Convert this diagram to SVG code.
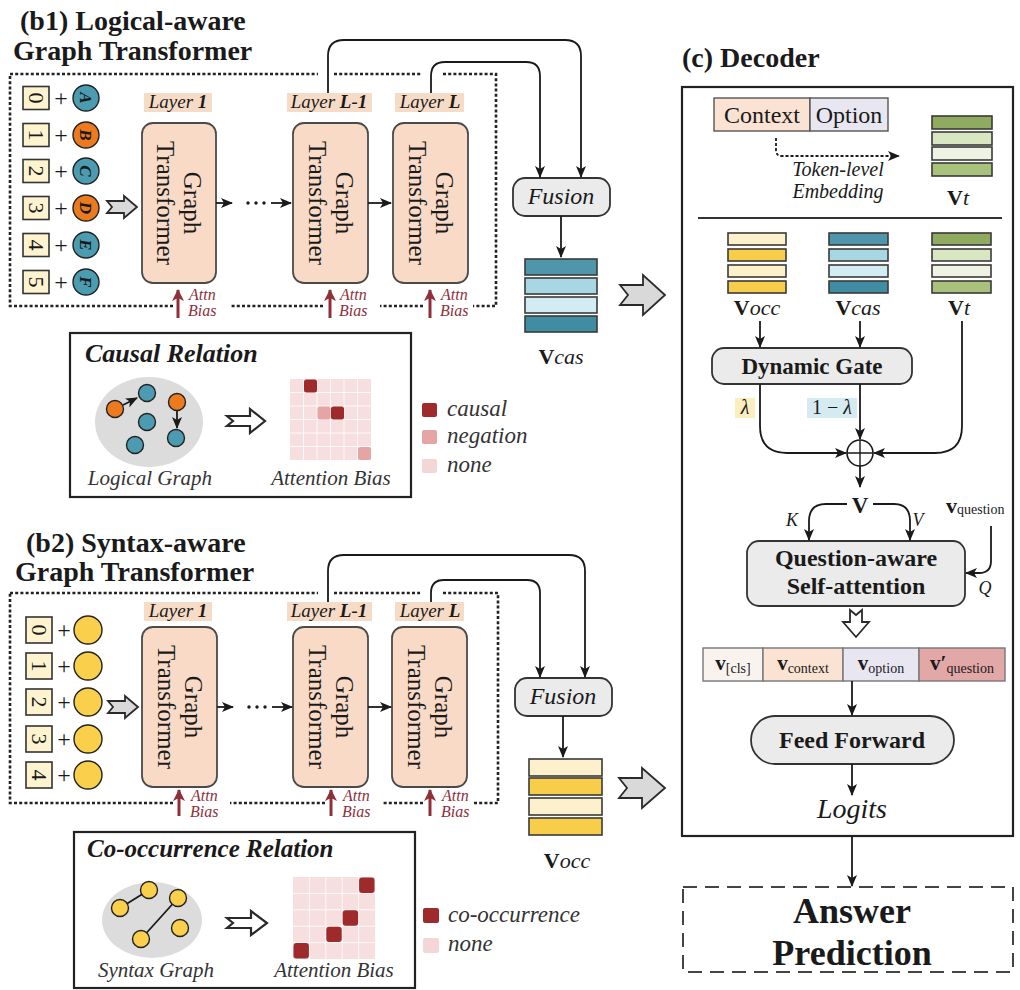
<svg xmlns="http://www.w3.org/2000/svg" width="1020" height="990" viewBox="0 0 1020 990">
<defs>
<style>
text{fill:#1a1a1a}
.title{font-size:28px;font-weight:bold}
.gt{fill:#f8dac6;stroke:#4a4a4a;stroke-width:1.8}
.gtt{font-size:25px;text-anchor:middle}
.lbl{fill:#f6dcc6}
.lay{font-size:19px;font-style:italic;text-anchor:middle}
.idx{fill:#fdf3cf;stroke:#333;stroke-width:1.6}
.dig{font-size:22px;text-anchor:middle}
.plus{font-size:24px;text-anchor:middle}
.nT{fill:#4b9bb1;stroke:#222;stroke-width:1.4}
.nO{fill:#ec7a1e;stroke:#222;stroke-width:1.4}
.nY{fill:#f9cf4c;stroke:#222;stroke-width:1.4}
.let{font-size:17px;font-style:italic;font-weight:bold;text-anchor:middle}
.frame{fill:none;stroke:#222;stroke-width:2.6;stroke-dasharray:3 2.2}
.ln{fill:none;stroke:#1a1a1a;stroke-width:1.8}
.attn{fill:none;stroke:#8e2f3a;stroke-width:3}
.attnT{font-size:16px;font-style:italic;fill:#8e2f3a}
.box{fill:#ebebeb;stroke:#333;stroke-width:1.8}
.bar{stroke:#3a3a3a;stroke-width:1.6}
.blk{fill:#d9d9d9;stroke:#2a2a2a;stroke-width:1.8}
.hol{fill:#fff;stroke:#2a2a2a;stroke-width:1.8}
.rel{fill:#fff;stroke:#2a2a2a;stroke-width:2.2}
.ell{fill:#dcdcdc}
.cap{font-size:21px;font-style:italic;text-anchor:middle;fill:#333}
.leg{font-size:23px;font-style:italic;fill:#333}
.bg{fill:#f7dfdf}
.gl{stroke:#fff;stroke-width:1;stroke-opacity:0.8}
.dk{fill:#9e2a2b}
.ng{fill:#e5a5a5}
.nn{fill:#f3d6d6}
.bold{font-weight:bold}
.it{font-style:italic}
</style>
<marker id="ah" viewBox="0 0 12 10" refX="11" refY="5" markerWidth="12" markerHeight="10" markerUnits="userSpaceOnUse" orient="auto"><path d="M0,0 L12,5 L0,10 L3,5 Z" fill="#1a1a1a"/></marker>
<marker id="ahr" viewBox="0 0 12 12" refX="11" refY="6" markerWidth="12" markerHeight="12" markerUnits="userSpaceOnUse" orient="auto"><path d="M0,0 L12,6 L0,12 L3,6 Z" fill="#8e2f3a"/></marker>
</defs>
<rect width="1020" height="990" fill="#fff"/>

<!-- ===== (b1) Logical-aware Graph Transformer ===== -->
<g id="b1-title">
<text font-family="Liberation Serif" class="title" x="20" y="30">(b1) Logical-aware</text>
<text font-family="Liberation Serif" class="title" x="13" y="60">Graph Transformer</text>
</g>
<path class="frame" d="M10,74 H318 M334,74 H421 M443,74 H496 V306 H473 M423,306 H380 M323,306 H230 M173,306 H10 V74"/>

<g id="b1-inputs">
<rect class="idx" x="23" y="86.5" width="26" height="23"/>
<text font-family="Liberation Serif" class="dig" transform="translate(36,98) rotate(90)" y="7.5">0</text>
<text font-family="Liberation Serif" class="plus" x="61" y="106">+</text>
<circle class="nT" cx="86" cy="98" r="13"/>
<text font-family="Liberation Serif" class="let" transform="translate(86,98) rotate(90)" y="6">A</text>

<rect class="idx" x="23" y="123.5" width="26" height="23"/>
<text font-family="Liberation Serif" class="dig" transform="translate(36,135) rotate(90)" y="7.5">1</text>
<text font-family="Liberation Serif" class="plus" x="61" y="143">+</text>
<circle class="nO" cx="86" cy="135" r="13"/>
<text font-family="Liberation Serif" class="let" transform="translate(86,135) rotate(90)" y="6">B</text>

<rect class="idx" x="23" y="159.5" width="26" height="23"/>
<text font-family="Liberation Serif" class="dig" transform="translate(36,171) rotate(90)" y="7.5">2</text>
<text font-family="Liberation Serif" class="plus" x="61" y="179">+</text>
<circle class="nT" cx="86" cy="171" r="13"/>
<text font-family="Liberation Serif" class="let" transform="translate(86,171) rotate(90)" y="6">C</text>

<rect class="idx" x="23" y="196.5" width="26" height="23"/>
<text font-family="Liberation Serif" class="dig" transform="translate(36,208) rotate(90)" y="7.5">3</text>
<text font-family="Liberation Serif" class="plus" x="61" y="216">+</text>
<circle class="nO" cx="86" cy="208" r="13"/>
<text font-family="Liberation Serif" class="let" transform="translate(86,208) rotate(90)" y="6">D</text>

<rect class="idx" x="23" y="233.5" width="26" height="23"/>
<text font-family="Liberation Serif" class="dig" transform="translate(36,245) rotate(90)" y="7.5">4</text>
<text font-family="Liberation Serif" class="plus" x="61" y="253">+</text>
<circle class="nT" cx="86" cy="245" r="13"/>
<text font-family="Liberation Serif" class="let" transform="translate(86,245) rotate(90)" y="6">E</text>

<rect class="idx" x="23" y="270.5" width="26" height="23"/>
<text font-family="Liberation Serif" class="dig" transform="translate(36,282) rotate(90)" y="7.5">5</text>
<text font-family="Liberation Serif" class="plus" x="61" y="290">+</text>
<circle class="nT" cx="86" cy="282" r="13"/>
<text font-family="Liberation Serif" class="let" transform="translate(86,282) rotate(90)" y="6">F</text>
</g>
<path class="blk" d="M107,201 H124 V196 L137,207 L124,218 V213 H107 L112,207 Z"/>

<g id="b1-layer1">
<rect class="lbl" x="144" y="93" width="68" height="19"/>
<text font-family="Liberation Serif" class="lay" x="178" y="108">Layer <tspan class="bold">1</tspan></text>
<rect class="gt" x="142" y="123" width="74" height="160" rx="11"/>
<text font-family="Liberation Serif" class="gtt" transform="translate(179,203) rotate(90)"><tspan x="0" y="-5">Graph</tspan><tspan x="0" y="22">Transformer</tspan></text>
</g>
<g id="b1-layerL-1">
<rect class="lbl" x="287" y="93" width="85" height="19"/>
<text font-family="Liberation Serif" class="lay" x="329" y="108">Layer <tspan class="bold">L-1</tspan></text>
<rect class="gt" x="293" y="123" width="75" height="160" rx="11"/>
<text font-family="Liberation Serif" class="gtt" transform="translate(330.5,203) rotate(90)"><tspan x="0" y="-5">Graph</tspan><tspan x="0" y="22">Transformer</tspan></text>
</g>
<g id="b1-layerL">
<rect class="lbl" x="395" y="93" width="69" height="19"/>
<text font-family="Liberation Serif" class="lay" x="430" y="108">Layer <tspan class="bold">L</tspan></text>
<rect class="gt" x="393" y="123" width="75" height="160" rx="11"/>
<text font-family="Liberation Serif" class="gtt" transform="translate(430.5,203) rotate(90)"><tspan x="0" y="-5">Graph</tspan><tspan x="0" y="22">Transformer</tspan></text>
</g>
<g id="b1-attn">
<path class="attn" d="M178,318 V290" marker-end="url(#ahr)"/>
<path class="attn" d="M330,318 V290" marker-end="url(#ahr)"/>
<path class="attn" d="M430,318 V290" marker-end="url(#ahr)"/>
<text font-family="Liberation Serif" class="attnT" x="189" y="300">Attn</text><text font-family="Liberation Serif" class="attnT" x="188" y="316">Bias</text>
<text font-family="Liberation Serif" class="attnT" x="340" y="300">Attn</text><text font-family="Liberation Serif" class="attnT" x="339" y="316">Bias</text>
<text font-family="Liberation Serif" class="attnT" x="441" y="300">Attn</text><text font-family="Liberation Serif" class="attnT" x="440" y="316">Bias</text>
</g>
<g id="b1-fusion">
<rect class="box" x="513" y="178" width="97" height="38" rx="12"/>
<text font-family="Liberation Serif" x="561" y="204" font-size="24" font-style="italic" text-anchor="middle" fill="#333">Fusion</text>
</g>
<g id="b1-vcas">
<rect class="bar" x="525" y="259" width="72" height="16" fill="#4f96ab"/>
<rect class="bar" x="525" y="278" width="72" height="16" fill="#a9d6e3"/>
<rect class="bar" x="525" y="297" width="72" height="16" fill="#d3ebf2"/>
<rect class="bar" x="525" y="316" width="72" height="16" fill="#3f8ca3"/>
<text font-family="Liberation Serif" x="561" y="364" font-size="22" text-anchor="middle"><tspan class="bold">V</tspan><tspan class="it">cas</tspan></text>
</g>
<path class="blk" d="M620,285 H643 V275 L665,295 L643,315 V305 H620 L628,295 Z"/>

<!-- causal relation panel -->
<g id="causal-relation">
<rect x="70" y="333" width="341" height="164" fill="#fff" stroke="#222" stroke-width="2.2"/>
<text font-family="Liberation Serif" x="85" y="362" font-size="26" font-weight="bold" font-style="italic">Causal Relation</text>
<ellipse class="ell" cx="149" cy="422" rx="54" ry="45"/>
<path class="ln" d="M123,405 L137,398" stroke-width="1.4" marker-end="url(#ah)"/>
<path class="ln" d="M177,410 V428" stroke-width="1.4" marker-end="url(#ah)"/>
<circle class="nO" cx="115" cy="409" r="8.5"/>
<circle class="nT" cx="147" cy="393" r="8.5"/>
<circle class="nT" cx="147" cy="422" r="8.5"/>
<circle class="nO" cx="177" cy="402" r="8.5"/>
<circle class="nT" cx="176" cy="438" r="8.5"/>
<circle class="nT" cx="135" cy="445" r="8.5"/>
<text font-family="Liberation Serif" class="cap" x="150" y="485">Logical Graph</text>
<path class="rel" d="M227,416 H250 V409 L265,421 L250,433 V426 H227 L233,421 Z"/>
<rect class="bg" x="290" y="379" width="81" height="81"/>
<path class="gl" d="M303.5,379 V460 M317,379 V460 M330.5,379 V460 M344,379 V460 M357.5,379 V460 M290,392.5 H371 M290,406 H371 M290,419.5 H371 M290,433 H371 M290,446.5 H371"/>
<rect class="dk" x="304" y="379.5" width="13" height="13" rx="2.5"/>
<rect class="ng" x="317.5" y="406.5" width="13" height="13" rx="2.5"/>
<rect class="dk" x="331" y="406.5" width="13" height="13" rx="2.5"/>
<rect class="ng" x="358" y="447" width="13" height="13" rx="2.5"/>
<text font-family="Liberation Serif" class="cap" x="331" y="485">Attention Bias</text>
</g>
<g id="causal-legend">
<rect class="dk" x="422" y="403" width="15" height="14" rx="2"/>
<rect class="ng" x="422" y="430" width="15" height="14" rx="2"/>
<rect class="nn" x="422" y="459" width="15" height="14" rx="2"/>
<text font-family="Liberation Serif" class="leg" x="447" y="416">causal</text>
<text font-family="Liberation Serif" class="leg" x="447" y="443">negation</text>
<text font-family="Liberation Serif" class="leg" x="447" y="472">none</text>
</g>

<!-- ===== (b2) Syntax-aware Graph Transformer ===== -->
<g id="b2-title">
<text font-family="Liberation Serif" class="title" x="26" y="552">(b2) Syntax-aware</text>
<text font-family="Liberation Serif" class="title" x="15" y="581">Graph Transformer</text>
</g>
<path class="frame" d="M10,593 H318 M334,593 H420 M443,593 H498 V803 H473 M423,803 H383 M325,803 H230 M173,803 H10 V593"/>

<g id="b2-inputs">
<rect class="idx" x="26" y="617" width="26" height="26"/>
<text font-family="Liberation Serif" class="dig" transform="translate(39,630) rotate(90)" y="7.5">0</text>
<text font-family="Liberation Serif" class="plus" x="64" y="638">+</text>
<circle class="nY" cx="88" cy="630" r="14"/>
<rect class="idx" x="26" y="653" width="26" height="26"/>
<text font-family="Liberation Serif" class="dig" transform="translate(39,666) rotate(90)" y="7.5">1</text>
<text font-family="Liberation Serif" class="plus" x="64" y="674">+</text>
<circle class="nY" cx="88" cy="666" r="14"/>
<rect class="idx" x="26" y="689" width="26" height="26"/>
<text font-family="Liberation Serif" class="dig" transform="translate(39,702) rotate(90)" y="7.5">2</text>
<text font-family="Liberation Serif" class="plus" x="64" y="710">+</text>
<circle class="nY" cx="88" cy="702" r="14"/>
<rect class="idx" x="26" y="726" width="26" height="26"/>
<text font-family="Liberation Serif" class="dig" transform="translate(39,739) rotate(90)" y="7.5">3</text>
<text font-family="Liberation Serif" class="plus" x="64" y="747">+</text>
<circle class="nY" cx="88" cy="739" r="14"/>
<rect class="idx" x="26" y="762" width="26" height="26"/>
<text font-family="Liberation Serif" class="dig" transform="translate(39,775) rotate(90)" y="7.5">4</text>
<text font-family="Liberation Serif" class="plus" x="64" y="783">+</text>
<circle class="nY" cx="88" cy="775" r="14"/>
</g>
<path class="blk" d="M108,701 H125 V696 L138,707 L125,718 V713 H108 L113,707 Z"/>

<g id="b2-layer1">
<rect class="lbl" x="144" y="602" width="68" height="19"/>
<text font-family="Liberation Serif" class="lay" x="178" y="617">Layer <tspan class="bold">1</tspan></text>
<rect class="gt" x="142" y="627" width="75" height="160" rx="11"/>
<text font-family="Liberation Serif" class="gtt" transform="translate(179.5,707) rotate(90)"><tspan x="0" y="-5">Graph</tspan><tspan x="0" y="22">Transformer</tspan></text>
</g>
<g id="b2-layerL-1">
<rect class="lbl" x="287" y="602" width="85" height="19"/>
<text font-family="Liberation Serif" class="lay" x="329" y="617">Layer <tspan class="bold">L-1</tspan></text>
<rect class="gt" x="293" y="627" width="75" height="160" rx="11"/>
<text font-family="Liberation Serif" class="gtt" transform="translate(330.5,707) rotate(90)"><tspan x="0" y="-5">Graph</tspan><tspan x="0" y="22">Transformer</tspan></text>
</g>
<g id="b2-layerL">
<rect class="lbl" x="395" y="602" width="69" height="19"/>
<text font-family="Liberation Serif" class="lay" x="430" y="617">Layer <tspan class="bold">L</tspan></text>
<rect class="gt" x="392" y="627" width="75" height="160" rx="11"/>
<text font-family="Liberation Serif" class="gtt" transform="translate(429.5,707) rotate(90)"><tspan x="0" y="-5">Graph</tspan><tspan x="0" y="22">Transformer</tspan></text>
</g>
<g id="b2-attn">
<path class="attn" d="M179,816 V790" marker-end="url(#ahr)"/>
<path class="attn" d="M331,816 V790" marker-end="url(#ahr)"/>
<path class="attn" d="M430,816 V790" marker-end="url(#ahr)"/>
<text font-family="Liberation Serif" class="attnT" x="191" y="801">Attn</text><text font-family="Liberation Serif" class="attnT" x="190" y="817">Bias</text>
<text font-family="Liberation Serif" class="attnT" x="343" y="801">Attn</text><text font-family="Liberation Serif" class="attnT" x="342" y="817">Bias</text>
<text font-family="Liberation Serif" class="attnT" x="442" y="801">Attn</text><text font-family="Liberation Serif" class="attnT" x="441" y="817">Bias</text>
</g>
<g id="b2-fusion">
<rect class="box" x="515" y="678" width="97" height="38" rx="12"/>
<text font-family="Liberation Serif" x="563" y="704" font-size="24" font-style="italic" text-anchor="middle" fill="#333">Fusion</text>
</g>
<g id="b2-vocc">
<rect class="bar" x="529" y="759" width="73" height="17" fill="#fdf1cc"/>
<rect class="bar" x="529" y="778" width="73" height="17" fill="#f8cd4a"/>
<rect class="bar" x="529" y="798" width="73" height="17" fill="#fdf1cc"/>
<rect class="bar" x="529" y="818" width="73" height="17" fill="#f8cd4a"/>
<text font-family="Liberation Serif" x="567" y="868" font-size="22" text-anchor="middle"><tspan class="bold">V</tspan><tspan class="it">occ</tspan></text>
</g>
<path class="blk" d="M619,778 H642 V768 L665,788 L642,808 V798 H619 L627,788 Z"/>

<!-- co-occurrence relation panel -->
<g id="cooccurrence-relation">
<rect x="74" y="832" width="341" height="156" fill="#fff" stroke="#222" stroke-width="2.2"/>
<text font-family="Liberation Serif" x="87" y="857" font-size="25" font-weight="bold" font-style="italic">Co-occurrence Relation</text>
<ellipse class="ell" cx="152" cy="920" rx="50" ry="38"/>
<path class="ln" d="M120,908 L149,890 M178,898 L141,939" stroke-width="1.5"/>
<circle class="nY" cx="149" cy="890" r="8.5"/>
<circle class="nY" cx="120" cy="908" r="8.5"/>
<circle class="nY" cx="178" cy="898" r="8.5"/>
<circle class="nY" cx="180" cy="928" r="8.5"/>
<circle class="nY" cx="141" cy="939" r="8.5"/>
<text font-family="Liberation Serif" class="cap" x="156" y="977">Syntax Graph</text>
<path class="rel" d="M227,918 H251 V911 L267,923 L251,935 V928 H227 L233,923 Z"/>
<rect class="bg" x="293" y="877" width="82" height="82"/>
<path class="gl" d="M309.4,877 V959 M325.8,877 V959 M342.2,877 V959 M358.6,877 V959 M293,893.4 H375 M293,909.8 H375 M293,926.2 H375 M293,942.6 H375"/>
<rect class="dk" x="359.1" y="877.5" width="15.4" height="15.4" rx="3"/>
<rect class="dk" x="342.7" y="910.3" width="15.4" height="15.4" rx="3"/>
<rect class="dk" x="326.3" y="926.7" width="15.4" height="15.4" rx="3"/>
<rect class="dk" x="293.5" y="943.1" width="15.4" height="15.4" rx="3"/>
<text font-family="Liberation Serif" class="cap" x="334" y="977">Attention Bias</text>
</g>
<g id="cooccurrence-legend">
<rect class="dk" x="423" y="908" width="16" height="15" rx="2"/>
<rect class="nn" x="423" y="938" width="16" height="15" rx="2"/>
<text font-family="Liberation Serif" class="leg" x="448" y="922">co-occurrence</text>
<text font-family="Liberation Serif" class="leg" x="448" y="951">none</text>
</g>

<!-- ===== (c) Decoder ===== -->
<text font-family="Liberation Serif" class="title" x="682" y="67">(c) Decoder</text>
<rect id="decoder-frame" x="682" y="87" width="331" height="749" fill="none" stroke="#222" stroke-width="2.2"/>

<g id="context-option">
<rect x="714" y="98" width="96" height="33" fill="#fbe3d4" stroke="#555" stroke-width="1.4"/>
<rect x="810" y="98" width="78" height="33" fill="#e8e7f1" stroke="#555" stroke-width="1.4"/>
<text font-family="Liberation Serif" x="762" y="123" font-size="24" text-anchor="middle" fill="#333">Context</text>
<text font-family="Liberation Serif" x="849" y="123" font-size="24" text-anchor="middle" fill="#333">Option</text>
</g>
<g id="token-embedding">
<text font-family="Liberation Serif" x="838" y="176" font-size="20" font-style="italic" text-anchor="middle" fill="#333">Token-level</text>
<text font-family="Liberation Serif" x="838" y="198" font-size="20" font-style="italic" text-anchor="middle" fill="#333">Embedding</text>
</g>
<g id="vt-top">
<rect class="bar" x="932" y="116" width="60" height="13" fill="#8fab5f"/>
<rect class="bar" x="932" y="132" width="60" height="13" fill="#d9e6c2"/>
<rect class="bar" x="932" y="147" width="60" height="13" fill="#eef3e3"/>
<rect class="bar" x="932" y="163" width="60" height="13" fill="#a8c27b"/>
<text font-family="Liberation Serif" x="958" y="205" font-size="22" text-anchor="middle"><tspan class="bold">V</tspan><tspan class="it">t</tspan></text>
</g>
<path d="M698,218 H1002" stroke="#333" stroke-width="1.8"/>

<g id="vocc-dec">
<rect class="bar" x="728" y="233" width="58" height="12" fill="#fdf1cc"/>
<rect class="bar" x="728" y="249" width="58" height="12" fill="#f8cd4a"/>
<rect class="bar" x="728" y="265" width="58" height="12" fill="#fdf1cc"/>
<rect class="bar" x="728" y="281" width="58" height="12" fill="#f8cd4a"/>
<text font-family="Liberation Serif" x="757" y="315" font-size="22" text-anchor="middle"><tspan class="bold">V</tspan><tspan class="it">occ</tspan></text>
</g>
<g id="vcas-dec">
<rect class="bar" x="829" y="233" width="59" height="12" fill="#4f96ab"/>
<rect class="bar" x="829" y="249" width="59" height="12" fill="#a9d6e3"/>
<rect class="bar" x="829" y="265" width="59" height="12" fill="#d3ebf2"/>
<rect class="bar" x="829" y="281" width="59" height="12" fill="#3f8ca3"/>
<text font-family="Liberation Serif" x="858" y="315" font-size="22" text-anchor="middle"><tspan class="bold">V</tspan><tspan class="it">cas</tspan></text>
</g>
<g id="vt-dec">
<rect class="bar" x="932" y="233" width="59" height="12" fill="#8fab5f"/>
<rect class="bar" x="932" y="249" width="59" height="12" fill="#d9e6c2"/>
<rect class="bar" x="932" y="265" width="59" height="12" fill="#eef3e3"/>
<rect class="bar" x="932" y="281" width="59" height="12" fill="#a8c27b"/>
<text font-family="Liberation Serif" x="959" y="315" font-size="22" text-anchor="middle"><tspan class="bold">V</tspan><tspan class="it">t</tspan></text>
</g>

<g id="dynamic-gate">
<rect class="box" x="712" y="348" width="200" height="36" rx="12"/>
<text font-family="Liberation Serif" x="812" y="374" font-size="23" font-weight="bold" text-anchor="middle">Dynamic Gate</text>
</g>
<g id="gate-weights">
<rect x="735" y="398" width="20" height="20" fill="#fdeec0"/>
<text font-family="Liberation Serif" x="745" y="414" font-size="20" font-style="italic" text-anchor="middle" fill="#333">λ</text>
<rect x="807" y="398" width="50" height="20" fill="#d6eaf2"/>
<text font-family="Liberation Serif" x="832" y="414" font-size="20" text-anchor="middle" fill="#333">1 − <tspan class="it">λ</tspan></text>
</g>
<g id="sum">
<circle cx="860" cy="453" r="13" fill="#fff" stroke="#1a1a1a" stroke-width="1.6"/>
<path d="M847,453 H873 M860,440 V466" stroke="#1a1a1a" stroke-width="1.4"/>
</g>
<text font-family="Liberation Serif" x="860" y="513" font-size="23" font-weight="bold" text-anchor="middle">V</text>
<text font-family="Liberation Serif" x="792" y="526" font-size="18" font-style="italic" text-anchor="middle" fill="#333">K</text>
<text font-family="Liberation Serif" x="918" y="526" font-size="18" font-style="italic" text-anchor="middle" fill="#333">V</text>
<text font-family="Liberation Serif" x="946" y="513" font-size="22" font-weight="bold">v<tspan font-size="14" font-weight="normal" dy="1">question</tspan></text>
<text font-family="Liberation Serif" x="985" y="594" font-size="18" font-style="italic" text-anchor="middle" fill="#333">Q</text>

<g id="self-attention">
<rect class="box" x="747" y="541" width="218" height="65" rx="12"/>
<text font-family="Liberation Serif" x="856" y="566" font-size="24" font-weight="bold" text-anchor="middle">Question-aware</text>
<text font-family="Liberation Serif" x="856" y="594" font-size="24" font-weight="bold" text-anchor="middle">Self-attention</text>
</g>
<path class="hol" d="M850,610 V622 H843 L856,637 L869,622 H862 V610 L856,615 Z"/>

<g id="sequence">
<rect x="703" y="648" width="60" height="33" fill="#f8f3ef" stroke="#777" stroke-width="1.4"/>
<rect x="763" y="648" width="80" height="33" fill="#fbe3d4" stroke="#777" stroke-width="1.4"/>
<rect x="843" y="648" width="76" height="33" fill="#e8e7f1" stroke="#777" stroke-width="1.4"/>
<rect x="919" y="648" width="86" height="33" fill="#e2a7a7" stroke="#777" stroke-width="1.4"/>
<text font-family="Liberation Serif" x="733" y="670" font-size="21" text-anchor="middle"><tspan class="bold">v</tspan><tspan font-size="14" dy="3">[cls]</tspan></text>
<text font-family="Liberation Serif" x="803" y="670" font-size="21" text-anchor="middle"><tspan class="bold">v</tspan><tspan font-size="14" dy="3">context</tspan></text>
<text font-family="Liberation Serif" x="881" y="670" font-size="21" text-anchor="middle"><tspan class="bold">v</tspan><tspan font-size="14" dy="3">option</tspan></text>
<text font-family="Liberation Serif" x="962" y="670" font-size="21" text-anchor="middle"><tspan class="bold">v′</tspan><tspan font-size="14" dy="3">question</tspan></text>
</g>
<g id="feed-forward">
<rect class="box" x="751" y="716" width="203" height="48" rx="24"/>
<text font-family="Liberation Serif" x="852" y="748" font-size="24" font-weight="bold" text-anchor="middle">Feed Forward</text>
</g>
<text font-family="Liberation Serif" x="852" y="818" font-size="28" font-style="italic" text-anchor="middle" fill="#333">Logits</text>

<g id="answer-prediction">
<rect x="683" y="887" width="330" height="85" fill="none" stroke="#444" stroke-width="2" stroke-dasharray="14 8"/>
<text font-family="Liberation Serif" x="852" y="923" font-size="36" font-weight="bold" text-anchor="middle">Answer</text>
<text font-family="Liberation Serif" x="852" y="965" font-size="36" font-weight="bold" text-anchor="middle">Prediction</text>
</g>

<!-- ===== connectors ===== -->
<g id="connectors" class="ln">
<path d="M216,203 H232" marker-end="url(#ah)"/>
<path d="M271,203 H291" marker-end="url(#ah)"/>
<path d="M368,203 H391" marker-end="url(#ah)"/>
<path d="M217,707 H233" marker-end="url(#ah)"/>
<path d="M272,707 H292" marker-end="url(#ah)"/>
<path d="M368,707 H391" marker-end="url(#ah)"/>
<path d="M328,93 V56 Q328,40 344,40 H565 Q581,40 581,56 V177" marker-end="url(#ah)"/>
<path d="M431,93 V76 Q431,62 445,62 H526 Q540,62 540,76 V177" marker-end="url(#ah)"/>
<path d="M561,216 V257" marker-end="url(#ah)"/>
<path d="M328,602 V571 Q328,555 344,555 H569 Q585,555 585,571 V677" marker-end="url(#ah)"/>
<path d="M431,602 V593 Q431,580 444,580 H527 Q540,580 540,593 V677" marker-end="url(#ah)"/>
<path d="M563,716 V757" marker-end="url(#ah)"/>
<path d="M776,138 V150 Q776,156 782,156 H899" stroke-dasharray="3 2" marker-end="url(#ah)"/>
<path d="M760,321 V347" marker-end="url(#ah)"/>
<path d="M860,321 V347" marker-end="url(#ah)"/>
<path d="M962,321 V426 Q962,453 935,453 H874" marker-end="url(#ah)"/>
<path d="M760,384 V426 Q760,453 787,453 H846" marker-end="url(#ah)"/>
<path d="M860,384 V439" marker-end="url(#ah)"/>
<path d="M860,466 V487" marker-end="url(#ah)"/>
<path d="M847,504 H826 Q809,504 809,521 V540" marker-end="url(#ah)"/>
<path d="M873,504 H894 Q910,504 910,521 V540" marker-end="url(#ah)"/>
<path d="M991,526 V561 Q991,573 979,573 H966" marker-end="url(#ah)"/>
<path d="M852,681 V715" marker-end="url(#ah)"/>
<path d="M852,764 V795" marker-end="url(#ah)"/>
<path d="M852,836 V886" marker-end="url(#ah)"/>
</g>
<g id="ellipsis" fill="#1a1a1a">
<circle cx="248" cy="203" r="1.7"/><circle cx="256" cy="203" r="1.7"/><circle cx="264" cy="203" r="1.7"/>
<circle cx="249" cy="707" r="1.7"/><circle cx="257" cy="707" r="1.7"/><circle cx="265" cy="707" r="1.7"/>
</g>
</svg>
